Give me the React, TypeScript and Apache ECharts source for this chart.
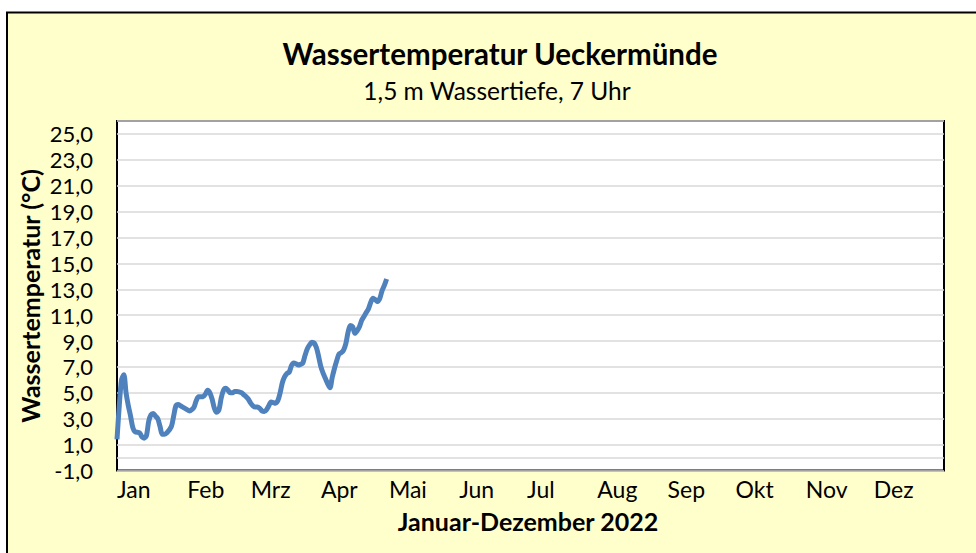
import React, { useEffect, useRef } from "react";
import * as echarts from "echarts";

const monthNames = ["Jan", "Feb", "Mrz", "Apr", "Mai", "Jun", "Jul", "Aug", "Sep", "Okt", "Nov", "Dez"];
const monthStarts = [0, 31, 59, 90, 120, 151, 181, 212, 243, 273, 304, 334];

const days = [
  0, 1, 2, 3, 4, 5, 6, 7, 8, 10, 11, 12, 13, 14, 15, 16, 17, 18, 19, 20, 21, 22, 24, 25, 26, 27, 28, 30,
  32, 33, 34, 35, 36, 38, 39, 40, 41, 42, 43, 44, 45, 46, 47, 48, 49, 50, 51, 52, 53, 55, 56, 57, 58, 59,
  60, 61, 62, 63, 64, 65, 66, 67, 68, 69, 70, 71, 72, 73, 74, 75, 76, 77, 78, 79, 80, 81, 82, 83, 84, 85,
  86, 87, 88, 89, 90, 91, 92, 93, 94, 95, 96, 97, 98, 99, 100, 101, 102, 103, 104, 105, 106, 107, 108,
  109, 110, 111, 112, 113, 114, 115, 116, 117, 118, 119,
];
const temps = [
  1.4, 4.0, 6.0, 6.4, 5.0, 4.0, 3.2, 2.3, 2.0, 1.9, 1.6, 1.5, 1.7, 2.8, 3.3, 3.4, 3.2, 3.0, 2.4, 1.8, 1.8,
  1.9, 2.4, 3.2, 4.0, 4.1, 4.0, 3.8, 3.6, 3.7, 3.9, 4.4, 4.7, 4.7, 4.9, 5.2, 5.0, 4.5, 3.8, 3.5, 3.7, 4.6,
  5.2, 5.35, 5.2, 5.0, 5.0, 5.1, 5.1, 5.0, 4.85, 4.7, 4.5, 4.2, 4.0, 3.9, 3.9, 3.8, 3.6, 3.55, 3.7, 4.0,
  4.3, 4.25, 4.2, 4.4, 5.0, 5.8, 6.25, 6.5, 6.6, 7.1, 7.3, 7.25, 7.15, 7.2, 7.3, 7.9, 8.4, 8.7, 8.9, 8.85,
  8.5, 7.8, 7.0, 6.5, 6.1, 5.7, 5.4, 6.2, 6.9, 7.5, 8.0, 8.1, 8.3, 8.8, 9.7, 10.2, 10.1, 9.6, 9.8, 10.1,
  10.6, 10.9, 11.2, 11.5, 12.0, 12.3, 12.2, 12.05, 12.3, 12.9, 13.3, 13.8,
];

const titleText = "Wassertemperatur Ueckermünde";
const subtitleText = "1,5 m Wassertiefe, 7 Uhr";
const yAxisTitle = "Wassertemperatur (°C)";
const xAxisTitle = "Januar-Dezember 2022";

const FONT = "Lato, 'Open Sans', sans-serif";

export default function App() {
  const ref = useRef<HTMLDivElement>(null);
  useEffect(() => {
    document.body.style.margin = "0";
    document.body.style.background = "#ffffff";
    const chart = echarts.init(ref.current!, null, { renderer: "svg" });
    const data = days.map((d, i) => [d, temps[i]]);
    chart.setOption({
      animation: false,
      textStyle: { fontFamily: FONT },
      graphic: [
        {
          type: "rect",
          z: -10,
          shape: { x: 7, y: 12.5, width: 985, height: 560 },
          style: { fill: "#FFFFCC", stroke: "#000", lineWidth: 2 },
        },
        {
          type: "text",
          x: 500,
          y: 53,
          style: {
            text: titleText,
            font: `bold 29.5px ${FONT}`,
            fill: "#000",
            align: "center",
            verticalAlign: "middle",
          },
        },
        {
          type: "text",
          x: 497,
          y: 90,
          style: {
            text: subtitleText,
            font: `24.5px ${FONT}`,
            fill: "#000",
            align: "center",
            verticalAlign: "middle",
          },
        },
        {
          type: "text",
          x: 528,
          y: 521,
          style: {
            text: xAxisTitle,
            font: `bold 25px ${FONT}`,
            fill: "#000",
            align: "center",
            verticalAlign: "middle",
          },
        },
        {
          type: "text",
          x: 30,
          y: 296,
          rotation: Math.PI / 2,
          style: {
            text: yAxisTitle,
            font: `bold 25px ${FONT}`,
            fill: "#000",
            align: "center",
            verticalAlign: "middle",
          },
        },
      ],
      grid: {
        show: true,
        left: 117,
        top: 121,
        right: 32,
        bottom: 82.5,
        backgroundColor: "#ffffff",
        borderColor: "#000",
        borderWidth: 2,
        containLabel: false,
      },
      xAxis: {
        type: "value",
        min: 0,
        max: 365,
        axisLine: { show: false, onZero: false },
        axisTick: { show: false },
        splitLine: { show: false },
        axisLabel: {
          customValues: monthStarts,
          formatter: (v: number) => monthNames[monthStarts.indexOf(Math.round(v))] ?? "",
          align: "left",
          margin: 7,
          fontSize: 23,
          color: "#000",
          fontFamily: FONT,
        },
      },
      yAxis: {
        type: "value",
        min: -1,
        max: 26,
        interval: 2,
        axisLine: { show: false },
        axisTick: { show: false },
        splitLine: { show: true, lineStyle: { color: "#D9D9D9", width: 1.5 } },
        axisLabel: {
          showMaxLabel: false,
          formatter: (v: number) => v.toFixed(1).replace(".", ","),
          margin: 24,
          fontSize: 22,
          color: "#000",
          fontFamily: FONT,
        },
      },
      series: [
        {
          type: "line",
          data,
          smooth: 0.3,
          showSymbol: false,
          lineStyle: { color: "#4F81BD", width: 5 },
          markLine: {
            silent: true,
            symbol: "none",
            label: { show: false },
            lineStyle: { color: "#D9D9D9", width: 1.5, type: "solid" },
            data: [{ yAxis: 0 }],
          },
        },
      ],
    });
    return () => chart.dispose();
  }, []);
  return <div ref={ref} style={{ width: 976, height: 553 }} />;
}
